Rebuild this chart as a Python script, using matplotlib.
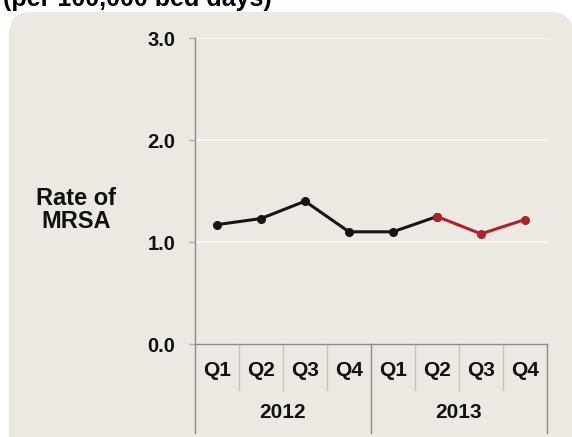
import matplotlib.pyplot as plt
from matplotlib.patches import FancyBboxPatch

plt.rcParams['font.family'] = ['Liberation Sans', 'DejaVu Sans']

# MRSA rate per 100,000 bed days, by quarter
quarters = ['Q1', 'Q2', 'Q3', 'Q4', 'Q1', 'Q2', 'Q3', 'Q4']
years = ['2012', '2013']
rate_2012 = [1.17, 1.23, 1.40, 1.10]
rate_2013 = [1.10, 1.25, 1.08, 1.22]
y_ticks = [0.0, 1.0, 2.0, 3.0]

rates = rate_2012 + rate_2013
xs = list(range(len(rates)))

W, H = 572, 437
fig = plt.figure(figsize=(W / 100, H / 100), dpi=100)
fig.patch.set_facecolor('white')

# rounded panel behind the chart
bg = fig.add_axes([0, 0, 1, 1])
bg.set_xlim(0, W)
bg.set_ylim(H, 0)
bg.axis('off')
bg.add_patch(FancyBboxPatch((9, 12), 564, 450,
                            boxstyle='round,pad=0,rounding_size=22',
                            fc='#ECE9E2', ec='none'))

ax = fig.add_axes([195 / W, 93 / H, 352 / W, 306 / H])
ax.patch.set_alpha(0)
ax.set_xlim(-0.5, 7.5)
ax.set_ylim(0, 3)

for v in y_ticks[1:]:
    ax.axhline(v, color='#f8f7f3', lw=1.6, zorder=0)

ax.plot(xs[:6], rates[:6], color='#151515', lw=2.2, marker='o', ms=5.5, zorder=3)
ax.plot(xs[5:], rates[5:], color='#b3202b', lw=2.2, marker='o', ms=5.5, zorder=4)

for s in ['top', 'right']:
    ax.spines[s].set_visible(False)
for s in ['left', 'bottom']:
    ax.spines[s].set_color('#8c8c8c')
    ax.spines[s].set_linewidth(1)

ax.set_yticks(y_ticks)
ax.set_yticklabels(['%.1f' % v for v in y_ticks], fontsize=14.5,
                   fontweight='bold', color='#111111')
ax.tick_params(axis='y', length=4, width=1, color='#aaaaaa', pad=10)
ax.set_xticks([])

# two-level category axis
tr = ax.get_xaxis_transform()
for i, q in enumerate(quarters):
    ax.text(i, -0.088, q, transform=tr, ha='center', va='center',
            fontsize=15, fontweight='bold', color='#111111')
for j, yr in enumerate(years):
    ax.text(1.5 + 4 * j, -0.225, yr, transform=tr, ha='center', va='center',
            fontsize=15, fontweight='bold', color='#111111')
for b in [0.5, 1.5, 2.5, 4.5, 5.5, 6.5]:
    ax.plot([b, b], [0, -0.15], transform=tr, clip_on=False,
            color='#c8c5be', lw=1)
for b in [-0.5, 3.5, 7.5]:
    ax.plot([b, b], [0, -0.29], transform=tr, clip_on=False,
            color='#8c8c8c', lw=1)

fig.text(76 / W, 1 - 210 / H, 'Rate of\nMRSA', ha='center', va='center',
         fontsize=17, fontweight='bold', color='#111111', linespacing=1.05)
fig.text(3 / W, 1 - 6 / H, '(per 100,000 bed days)', ha='left',
         va='baseline', fontsize=18, fontweight='bold', color='black')

fig.savefig('out.png', dpi=100)
